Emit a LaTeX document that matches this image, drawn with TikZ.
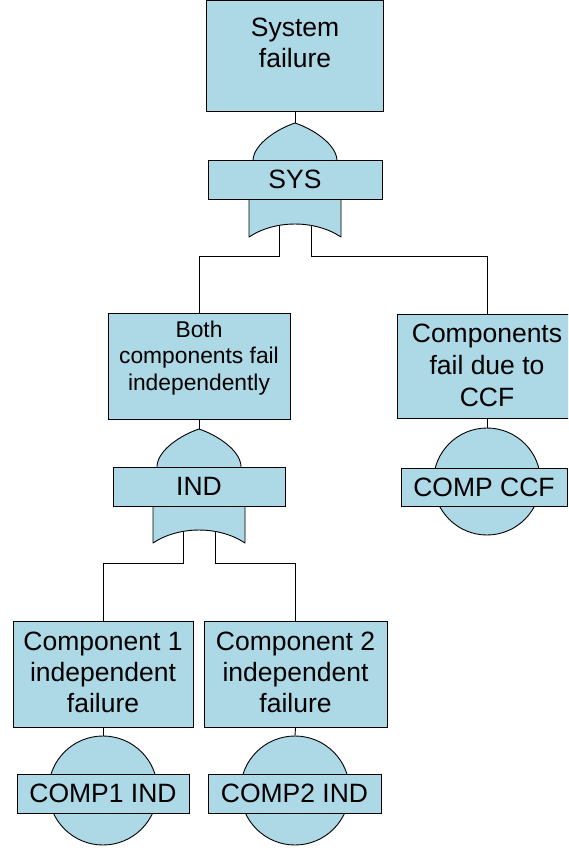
\documentclass[tikz,border=0pt]{standalone}
\usepackage{fontspec}
\setmainfont{Liberation Sans}
\definecolor{evfill}{HTML}{ADD8E6}
\tikzset{
  edge/.style={draw=black, line width=0.9pt},
  box/.style={draw=black, line width=0.9pt, fill=evfill, rectangle, inner sep=0pt},
  lbl/.style={box, minimum height=39pt, font=\fontsize{26.5}{31}\selectfont},
  basic/.style={draw=black, line width=0.9pt, fill=evfill, circle, inner sep=0pt},
  txt/.style={anchor=base, inner sep=0pt, font=\fontsize{26.5}{31}\selectfont},
  smalltxt/.style={txt, font=\fontsize{22.8}{26.5}\selectfont},
  widetxt/.style={txt, font=\fontsize{26.5}{32}\selectfont},
  gatefill/.style={draw=black, line width=0.9pt, fill=evfill, line join=round},
  orgate/.pic={
    % pointed top of the OR gate
    \draw[gatefill] (-42,37) .. controls (-41,21) and (-18,6) .. (0,0)
                    .. controls (18,6) and (41,21) .. (42,37)
                    -- (42,45) -- (-42,45) -- cycle;
    % lower body with the concave input side
    \draw[gatefill] (-46,70) -- (-46,114) .. controls (-20,96.7) and (20,96.7) .. (46,114)
                    -- (46,70) -- cycle;
  }
}
\newcommand{\lines}[1]{\begin{tabular}[t]{@{}c@{}}#1\end{tabular}}
\begin{document}
\begin{tikzpicture}[x=1pt,y=-1pt]
\useasboundingbox (0,0) rectangle (568,851);
\clip (0,0) rectangle (568,851);

% event boxes
\node[box, minimum width=177pt, minimum height=110.5pt, anchor=north] (top)  at (295,0.5) {};
\node[box, minimum width=182pt, minimum height=106pt,   anchor=north] (both) at (199,313) {};
\node[box, minimum width=180pt, minimum height=104pt,   anchor=north] (ccf)  at (487,314) {};
\node[box, minimum width=180pt, minimum height=106pt,   anchor=north] (c1)   at (103,621) {};
\node[box, minimum width=183pt, minimum height=106pt,   anchor=north] (c2)   at (295.5,621) {};

% event descriptions
\node[txt]      (topT)  at (295,37)  {\lines{System\\failure}};
\node[smalltxt] (bothT) at (199,337) {\lines{Both\\components fail\\independently}};
\node[widetxt]  (ccfT)  at (487,342) {\lines{Components\\fail due to\\CCF}};
\node[txt]      (c1T)   at (103,650) {\lines{Component 1\\independent\\failure}};
\node[txt]      (c2T)   at (295.5,650) {\lines{Component 2\\independent\\failure}};

% basic events
\node[basic, minimum size=107pt] (ccfE) at (487,481.5) {};
\node[basic, minimum size=109pt] (e1)   at (103,790.5) {};
\node[basic, minimum size=109pt] (e2)   at (295,790.5) {};

% gate anchor points
\coordinate (sysA) at (295,123);
\coordinate (sysL) at (279,215);
\coordinate (sysR) at (311,215);
\coordinate (indA) at (199,429);
\coordinate (indL) at (183,521);
\coordinate (indR) at (215,521);

% connectors
\draw[edge] (top.south) -- (sysA);
\draw[edge] (sysL) -- ++(0,41) -| (both.north);
\draw[edge] (sysR) -- ++(0,41) -| (ccf.north);
\draw[edge] (both.south) -- (indA);
\draw[edge] (indL) -- ++(0,42) -| (c1.north);
\draw[edge] (indR) -- ++(0,42) -| (c2.north);
\draw[edge] (ccf.south) -- (ccfE.north);
\draw[edge] (c1.south) -- (e1.north);
\draw[edge] (c2.south) -- (e2.north);

% OR gates
\pic at (sysA) {orgate};
\pic at (indA) {orgate};

% gate and basic event labels
\node[lbl, minimum width=174pt] (sys)  at (295,179.5) {SYS};
\node[lbl, minimum width=172pt] (ind)  at (199,486.5) {IND};
\node[lbl, minimum width=166pt, minimum height=38pt] (ccfL) at (484,487) {COMP CCF};
\node[lbl, minimum width=172pt] (e1L)  at (103,793.5) {COMP1 IND};
\node[lbl, minimum width=173pt] (e2L)  at (294.5,793.5) {COMP2 IND};
\end{tikzpicture}
\end{document}
